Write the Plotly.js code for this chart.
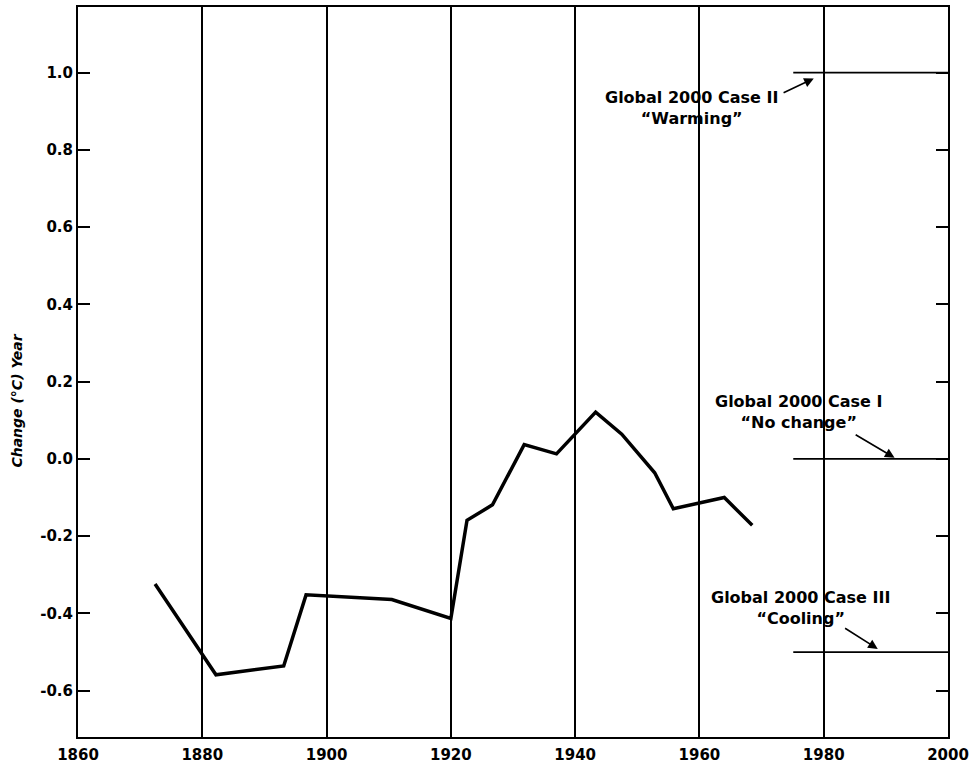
<!DOCTYPE html>
<html>
<head>
<meta charset="utf-8">
<script src="https://cdn.plot.ly/plotly-3.0.1.min.js"></script>
<style>html,body{margin:0;padding:0;background:#fff;}#chart{width:972px;height:765px;}</style>
</head>
<body>
<div id="chart"></div>
<script>
// Observed temperature change series
const years = [1872.4, 1882.2, 1893.1, 1896.7, 1910.5, 1920.0, 1922.6, 1926.7, 1931.8, 1937.0, 1943.3, 1947.5, 1952.8, 1955.8, 1964.0, 1968.5];
const change = [-0.324, -0.559, -0.536, -0.352, -0.364, -0.413, -0.159, -0.119, 0.037, 0.013, 0.121, 0.064, -0.036, -0.129, -0.100, -0.172];

// Global 2000 scenario lines
const caseNames = ["Global 2000 Case II<br>\u201cWarming\u201d", "Global 2000 Case I<br>\u201cNo change\u201d", "Global 2000 Case III<br>\u201cCooling\u201d"];
const caseValues = [1.0, 0.0, -0.5];
const caseStart = 1975.1;
const caseEnd = 2000;

// Label & arrow positions (data coords)
const labelX = [1958.7, 1975.9, 1976.2];
const labelY = [0.909, 0.121, -0.385];
const arrowTailX = [1973.3, 1984.9, 1983.2];
const arrowTailY = [0.946, 0.065, -0.436];
const arrowHeadX = [1978.4, 1991.4, 1988.7];
const arrowHeadY = [0.985, 0.003, -0.492];

const xTicks = [1860, 1880, 1900, 1920, 1940, 1960, 1980, 2000];
const yTicks = [-0.6, -0.4, -0.2, 0.0, 0.2, 0.4, 0.6, 0.8, 1.0];

const FONT = "'DejaVu Sans', sans-serif";

const traces = [{
  x: years, y: change, type: 'scatter', mode: 'lines',
  line: {color: '#000', width: 3.5}, hoverinfo: 'skip', showlegend: false
}];
caseValues.forEach(v => {
  traces.push({
    x: [caseStart, caseEnd], y: [v, v], type: 'scatter', mode: 'lines',
    line: {color: '#000', width: 1.8}, showlegend: false, hoverinfo: 'skip'
  });
});

const annotations = [];
caseNames.forEach((t, i) => {
  annotations.push({
    x: labelX[i], y: labelY[i], xref: 'x', yref: 'y', text: t, showarrow: false,
    font: {family: FONT, size: 16, color: '#000', weight: 'bold'}, align: 'center'
  });
  annotations.push({
    x: arrowHeadX[i], y: arrowHeadY[i], ax: arrowTailX[i], ay: arrowTailY[i],
    xref: 'x', yref: 'y', axref: 'x', ayref: 'y', text: '', showarrow: true,
    arrowhead: 2, arrowsize: 1.2, arrowwidth: 1.6, arrowcolor: '#000'
  });
});
annotations.push({
  xref: 'paper', yref: 'paper', x: -0.070, y: 0.461, xanchor: 'center', yanchor: 'middle',
  text: '<i>Change (°C) Year</i>',
  textangle: -90, showarrow: false, font: {family: FONT, size: 14, color: '#000', weight: 'bold'}
});

const layout = {
  width: 972, height: 765,
  margin: {l: 78, r: 24, t: 7, b: 28},
  paper_bgcolor: '#fff', plot_bgcolor: '#fff',
  showlegend: false,
  font: {family: FONT, color: '#000'},
  xaxis: {
    range: [1860, 2000], tickvals: xTicks, ticktext: xTicks.map(String),
    showgrid: true, gridcolor: '#000', gridwidth: 2,
    showline: true, linecolor: '#000', linewidth: 2, mirror: true,
    ticks: '', zeroline: false, ticklabelstandoff: 3,
    tickfont: {family: FONT, size: 15, color: '#000', weight: 'bold'}
  },
  yaxis: {
    range: [-0.72, 1.17], tickvals: yTicks, ticktext: yTicks.map(v => v.toFixed(1)),
    showgrid: false, zeroline: false,
    showline: true, linecolor: '#000', linewidth: 2, mirror: 'ticks',
    ticks: 'inside', ticklen: 12, tickwidth: 2, tickcolor: '#000',
    tickfont: {family: FONT, size: 15, color: '#000', weight: 'bold'}
  },
  annotations: annotations
};

Plotly.newPlot('chart', traces, layout, {displayModeBar: false, staticPlot: true});
</script>
</body>
</html>
